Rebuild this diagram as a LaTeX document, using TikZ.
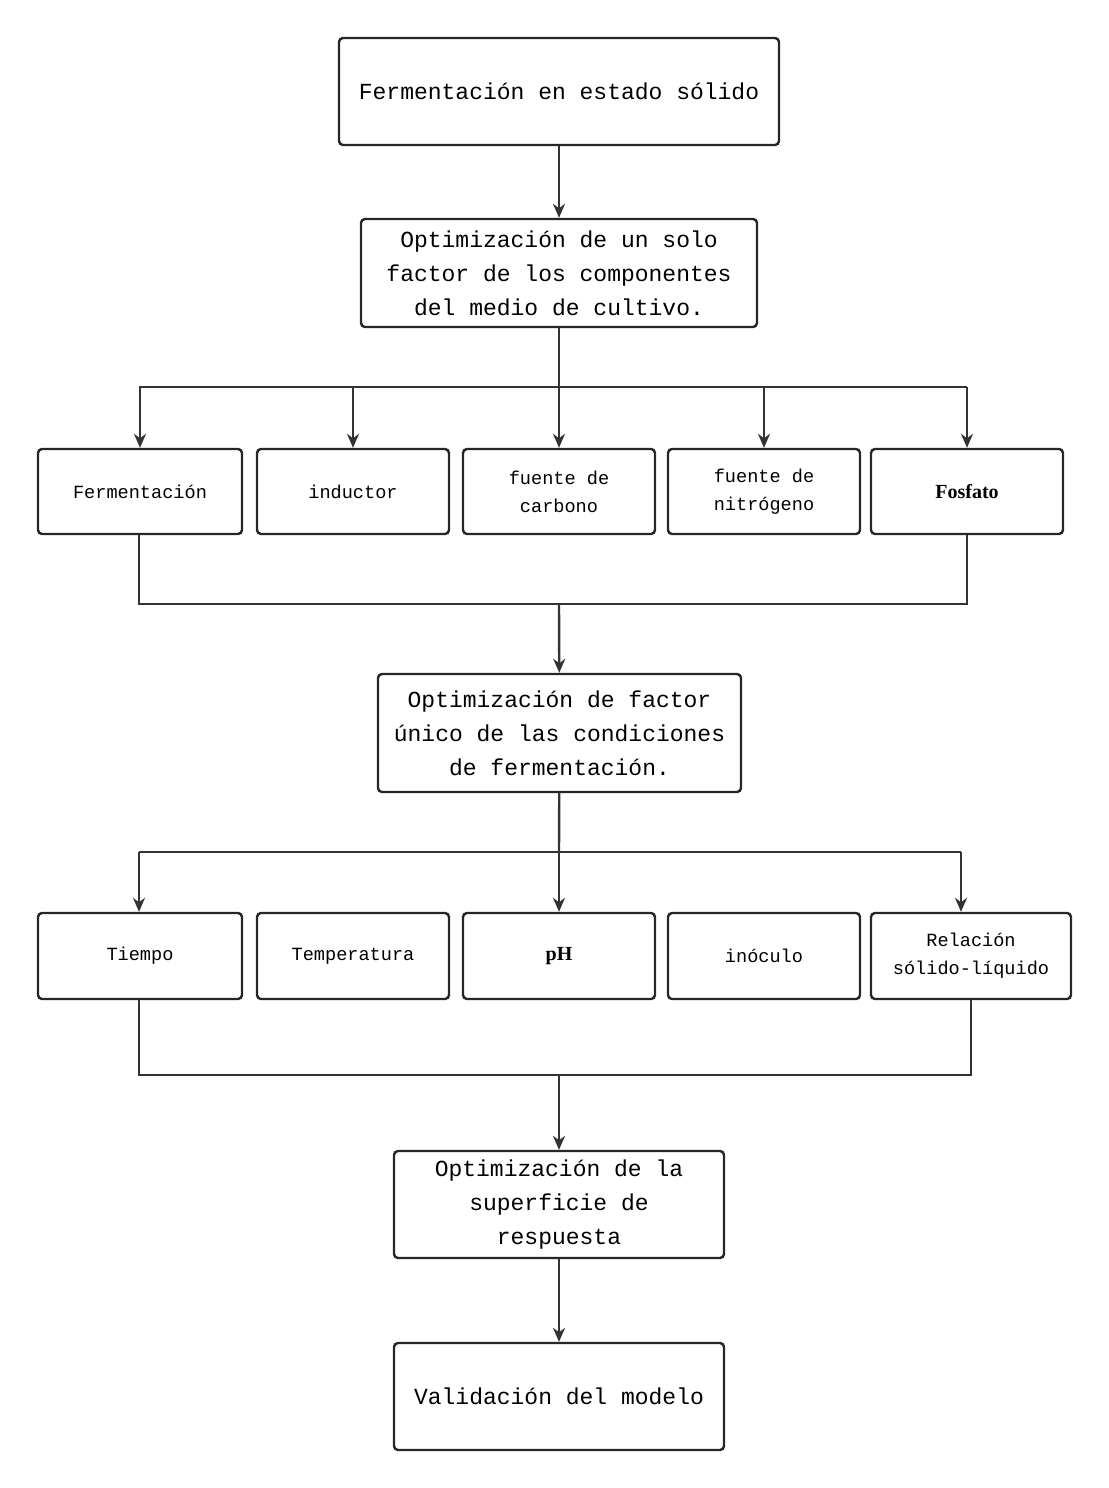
\documentclass[tikz,border=0pt]{standalone}
\usepackage{fontspec}
\setmainfont{Liberation Mono}
\newfontfamily\boldserif{Liberation Serif}
\usetikzlibrary{arrows.meta}

\tikzset{every picture/.style={line width=1.2pt}}
\tikzset{
  big/.style={draw=black!85, rounded corners=2pt, align=center, font=\fontsize{11.5}{17}\selectfont, inner sep=0pt},
  small/.style={draw=black!85, rounded corners=2pt, align=center, font=\fontsize{9.3}{14}\selectfont, inner sep=0pt},
  link/.style={draw=black!80},
  arr/.style={draw=black!80, -{Stealth[length=7pt,width=6pt]}}
}

\begin{document}
\begin{tikzpicture}[x=0.5pt,y=0.5pt,yscale=-1,xscale=1]
\useasboundingbox (0,0) rectangle (1108,1488);

% main steps
\node [big, minimum width=220pt, minimum height=53.5pt] (ssf) at (559,91.5) {Fermentación en estado sólido};
\node [big, minimum width=198pt, minimum height=54pt] (med) at (559,273) {Optimización de un solo\\factor de los componentes\\del medio de cultivo.};
\node [big, minimum width=181.5pt, minimum height=59pt] (cond) at (559.5,733) {Optimización de factor\\único de las condiciones\\de fermentación.};
\node [big, minimum width=165pt, minimum height=53.5pt] (rsm) at (559,1204.5) {Optimización de la\\superficie de\\respuesta};
\node [big, minimum width=165pt, minimum height=53.5pt] (val) at (559,1396.5) {Validación del modelo};

% first row of factors
\node [small, minimum width=102pt, minimum height=42.5pt] (ferm) at (140,491.5) {Fermentación};
\node [small, minimum width=96pt, minimum height=42.5pt] (ind) at (353,491.5) {inductor};
\node [small, minimum width=96pt, minimum height=42.5pt] (carb) at (559,491.5) {fuente de\\carbono};
\node [small, minimum width=96pt, minimum height=42.5pt] (nitr) at (764,491.5) {fuente de\\nitrógeno};
\node [small, minimum width=96pt, minimum height=42.5pt, font=\boldserif\bfseries\fontsize{10}{14}\selectfont] (fosf) at (967,491.5) {Fosfato};

% second row of factors
\node [small, minimum width=102pt, minimum height=43pt] (time) at (140,956) {Tiempo};
\node [small, minimum width=96pt, minimum height=43pt] (temp) at (353,956) {Temperatura};
\node [small, minimum width=96pt, minimum height=43pt, font=\boldserif\bfseries\fontsize{10}{14}\selectfont] (ph) at (559,956) {pH};
\node [small, minimum width=96pt, minimum height=43pt] (inoc) at (764,956) {inóculo};
\node [small, minimum width=100pt, minimum height=43pt] (rel) at (971,956) {Relación\\sólido-líquido};

\coordinate (s1) at (559,387);
\coordinate (m1) at (559,604);
\coordinate (s2) at (559,852);
\coordinate (m2) at (559,1075);

\draw [arr] (ssf) -- (med);
\draw [link] (med) -- (s1);
\draw [link] (139,387) -- (967,387);
\foreach \n in {ferm,ind,carb,nitr,fosf}
  \draw [arr] (\n.north |- s1) -- (\n.north);
\draw [link] (ferm.south -| 139,0) -- (139,604) -- (967,604) -- (fosf.south);
\draw [arr] (m1) -- (cond);

\draw [link] (cond) -- (s2);
\draw [link] (139,852) -- (961,852);
\draw [arr] (139,852) -- (time.north -| 139,0);
\draw [arr] (s2) -- (ph);
\draw [arr] (961,852) -- (rel.north -| 961,0);
\draw [link] (time.south -| 139,0) -- (139,1075) -- (971,1075) -- (rel.south);
\draw [arr] (m2) -- (rsm);
\draw [arr] (rsm) -- (val);

\end{tikzpicture}
\end{document}
